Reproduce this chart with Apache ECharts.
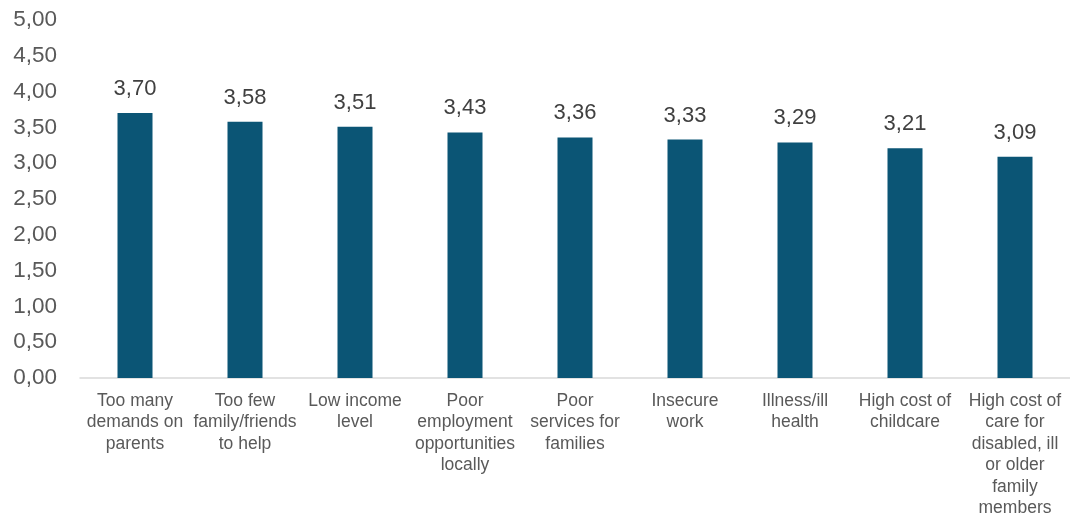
<!DOCTYPE html>
<html>
<head>
<meta charset="utf-8">
<script src="https://cdn.jsdelivr.net/npm/echarts@6/dist/echarts.min.js"></script>
<style>
  html, body { margin: 0; padding: 0; background: #ffffff; }
  #chart { width: 1070px; height: 519px; }
</style>
</head>
<body>
<div id="chart"></div>
<script>
// Categories (line breaks as they wrap under each bar)
const categories = [
  'Too many\ndemands on\nparents',
  'Too few\nfamily/friends\nto help',
  'Low income\nlevel',
  'Poor\nemployment\nopportunities\nlocally',
  'Poor\nservices for\nfamilies',
  'Insecure\nwork',
  'Illness/ill\nhealth',
  'High cost of\nchildcare',
  'High cost of\ncare for\ndisabled, ill\nor older\nfamily\nmembers'
];

// Mean scores
const scores = [3.70, 3.58, 3.51, 3.43, 3.36, 3.33, 3.29, 3.21, 3.09];

// Value axis range
const yMin = 0;
const yMax = 5;
const yStep = 0.5;

const fmt = v => v.toFixed(2).replace('.', ',');

const chart = echarts.init(document.getElementById('chart'));
chart.setOption({
  animation: false,
  grid: { left: 80, right: 0, top: 20, bottom: 139 },
  xAxis: {
    type: 'category',
    data: categories,
    axisLine: { lineStyle: { color: '#d9d9d9', width: 1.5 } },
    axisTick: { show: false },
    axisLabel: {
      interval: 0,
      color: '#595959',
      fontFamily: 'Liberation Sans, Arial, sans-serif',
      fontSize: 17.5,
      lineHeight: 21.5,
      margin: 12
    }
  },
  yAxis: {
    type: 'value',
    min: yMin,
    max: yMax,
    interval: yStep,
    splitLine: { show: false },
    axisLine: { show: false },
    axisTick: { show: false },
    axisLabel: {
      color: '#595959',
      fontFamily: 'Liberation Sans, Arial, sans-serif',
      fontSize: 22.5,
      margin: 23,
      formatter: fmt
    }
  },
  series: [{
    type: 'bar',
    data: scores,
    barWidth: 35,
    itemStyle: { color: '#0b5575' },
    label: {
      show: true,
      position: 'top',
      distance: 13,
      color: '#404040',
      fontFamily: 'Liberation Sans, Arial, sans-serif',
      fontSize: 22,
      formatter: p => fmt(p.value)
    }
  }]
});
</script>
</body>
</html>
